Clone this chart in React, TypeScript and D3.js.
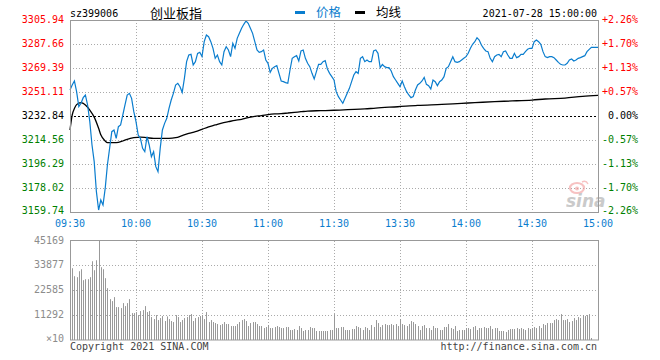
import React from "react";
import * as d3 from "d3";

// ---------- data ----------
const prevClose = 3232.84;
const priceTicks = [3305.94, 3287.66, 3269.39, 3251.11, 3232.84, 3214.56, 3196.29, 3178.02, 3159.74];
const pctTicks = ["+2.26%", "+1.70%", "+1.13%", "+0.57%", "0.00%", "-0.57%", "-1.13%", "-1.70%", "-2.26%"];
const volTicks = [45169, 33877, 22585, 11292];
const timeIdx = [0, 30, 60, 90, 120, 150, 180, 210, 240];
const timeLabels = ["09:30", "10:00", "10:30", "11:00", "11:30", "13:30", "14:00", "14:30", "15:00"];

const prices = [
  3252.64, 3256.45, 3259.49, 3251.37, 3239.95, 3242.48, 3246.8, 3248.83, 3241.22, 3228.52,
  3210.76, 3198.06, 3175.22, 3161.26, 3168.88, 3165.07, 3177.76, 3195.53, 3208.22, 3220.91,
  3222.18, 3215.83, 3224.72, 3225.99, 3233.6, 3241.22, 3248.83, 3250.1, 3246.29, 3236.14,
  3228.52, 3218.37, 3215.83, 3208.22, 3205.68, 3217.1, 3210.76, 3201.87, 3205.68, 3194.26,
  3190.45, 3208.22, 3222.18, 3227.25, 3231.06, 3238.68, 3245.02, 3250.1, 3256.45, 3257.71,
  3255.17, 3250.86, 3261.52, 3274.21, 3279.29, 3279.8, 3271.68, 3274.21, 3280.56, 3281.32,
  3278.02, 3289.44, 3294.52, 3293.25, 3289.44, 3284.37, 3276.75, 3279.29, 3274.21, 3271.68,
  3281.83, 3285.64, 3283.1, 3278.02, 3288.17, 3284.37, 3291.98, 3295.79, 3299.6, 3302.64,
  3305.18, 3303.4, 3299.6, 3295.79, 3289.44, 3283.1, 3281.32, 3281.83, 3283.1, 3275.48,
  3272.95, 3266.09, 3269.14, 3270.41, 3271.17, 3265.33, 3259.49, 3258.98, 3258.22, 3257.71,
  3267.87, 3276.75, 3278.02, 3278.78, 3274.72, 3282.34, 3283.1, 3276.75, 3272.95, 3270.41,
  3265.33, 3261.01, 3266.6, 3272.18, 3272.18, 3274.21, 3274.97, 3268.63, 3265.33, 3262.79,
  3260.26,
  3251.37, 3247.56, 3245.02, 3242.48, 3246.29, 3250.1, 3253.91, 3258.98, 3264.06, 3266.6,
  3265.33, 3276.75, 3278.02, 3274.21, 3275.48, 3274.21, 3274.21, 3282.34, 3283.1, 3280.56,
  3269.65, 3272.18, 3270.41, 3269.65, 3269.65, 3267.11, 3262.79, 3260.26, 3257.71, 3255.17,
  3259.49, 3255.17, 3251.37, 3248.83, 3246.8, 3247.56, 3252.64, 3256.45, 3257.71, 3259.49,
  3262.28, 3256.95, 3255.94, 3253.4, 3260.26, 3258.98, 3255.94, 3258.98, 3260.26, 3262.79,
  3269.14, 3270.41, 3274.21, 3278.02, 3274.21, 3273.71, 3274.21, 3275.48, 3276.75, 3278.02,
  3280.56, 3284.37, 3287.41, 3289.44, 3292.49, 3290.71, 3286.91, 3284.37, 3282.34, 3281.83,
  3276.75, 3274.21, 3278.02, 3279.29, 3279.8, 3278.02, 3281.83, 3282.34, 3279.29, 3276.75,
  3276.75, 3280.56, 3277.26, 3278.02, 3279.8, 3279.8, 3281.83, 3283.61, 3284.37, 3284.37,
  3289.44, 3290.71, 3289.44, 3287.41, 3281.83, 3278.02, 3277.26, 3278.02, 3278.02, 3277.26,
  3275.48, 3273.71, 3272.18, 3271.68, 3271.68, 3272.95, 3275.48, 3276.24, 3274.72, 3275.48,
  3276.75, 3277.26, 3278.02, 3278.78, 3281.83, 3283.61, 3285.13, 3285.13, 3285.13, 3285.13,
];

const avgIdx = [0, 1, 2, 3, 5, 6, 7, 9, 11, 13, 14, 16, 17, 20, 22, 24, 26, 29, 32, 35, 38, 45, 48, 51, 54, 57, 60, 63, 66, 69, 72, 75, 78, 81, 84, 87, 90, 93, 96, 99, 102, 105, 108, 114, 120, 134, 139, 149, 158, 169, 178, 184, 193, 201, 210, 216, 225, 233, 240];
const avgVal = [3222.2, 3233.6, 3238.5, 3241.5, 3243.0, 3242.5, 3241.2, 3237.4, 3232.0, 3223.5, 3218.5, 3213.8, 3212.5, 3212.5, 3212.8, 3213.8, 3215.1, 3216.3, 3216.8, 3216.3, 3215.8, 3215.8, 3216.3, 3217.9, 3219.6, 3220.9, 3222.7, 3224.5, 3226.0, 3227.5, 3228.5, 3229.5, 3230.3, 3231.6, 3232.6, 3233.1, 3233.9, 3234.4, 3234.6, 3235.1, 3235.6, 3236.1, 3236.6, 3236.9, 3237.2, 3238.2, 3238.9, 3239.9, 3240.9, 3241.7, 3242.5, 3243.0, 3243.8, 3244.3, 3245.0, 3245.8, 3246.5, 3247.8, 3248.5];

const volumes = [
  45169, 32746, 29107, 28652, 31381, 32291, 27288, 27743, 27743, 28652,
  35929, 31836, 36384, 45169, 33200, 32291, 28198, 23650, 18647, 17737,
  19556, 15008, 15008, 14554, 16828, 15463, 16828, 18647, 12280, 12280,
  12734, 11370, 13189, 13644, 15463, 12734, 13189, 10460, 9551, 11370,
  9096, 10006, 10915, 8641, 10764, 9551, 8641, 8186, 11370, 10460,
  8186, 9096, 10006, 10460, 11370, 11825, 8641, 10006, 10460, 10915,
  11370, 9551, 12734, 8186, 9096, 8186, 7732, 7277, 6822, 7277,
  8186, 7277, 7277, 6367, 6367, 6367, 7277, 8186, 9096, 9551,
  8641, 6367, 7732, 8186, 8186, 7277, 6367, 6367, 5458, 5912,
  6822, 5458, 5458, 5912, 6367, 5912, 5458, 5458, 5912, 5912,
  4548, 4548, 5003, 4548, 6367, 5458, 4093, 4548, 4548, 5912,
  5458, 5458, 4093, 4093, 4093, 4093, 4093, 4093, 4548, 4548,
  11825,
  5458, 5458, 5912, 5912, 4548, 4548, 4548, 5003, 5003, 6367,
  5912, 5458, 4548, 5912, 5458, 4548, 6822, 5912, 9096, 7732,
  5912, 6822, 7277, 6822, 6822, 7277, 6822, 7277, 6367, 9551,
  7277, 6822, 6367, 7277, 8641, 8186, 7277, 6367, 4548, 6367,
  6822, 5458, 5458, 4548, 6367, 5458, 5458, 4548, 4548, 5912,
  5912, 7277, 5458, 5003, 6367, 4093, 4548, 4548, 4548, 5458,
  5458, 5003, 5912, 6367, 4548, 5458, 5458, 5912, 5458, 5458,
  6367, 5003, 5458, 5458, 4093, 4093, 4093, 3638, 4548, 5003,
  5003, 5003, 5458, 5003, 5458, 5003, 4548, 5458, 5003, 5458,
  5912, 5458, 6367, 5458, 7277, 6822, 7732, 7732, 7732, 9096,
  9551, 9096, 11825, 9096, 9096, 9551, 8186, 8641, 10006, 9096,
  10460, 10006, 11370, 10915, 11370, 11825, 910, 0, 0, 0,
];

// ---------- layout ----------
const W = 660;
const H = 360;
const L = 70;
const R = 598;
const PT = 20;
const PB = 212;
const VT = 241;
const VB = 340;

const MONO = "'DejaVu Sans Mono', monospace";
const CJK = "'Noto Sans CJK SC', sans-serif";
const BLUE = "#0a7dce";
const RED = "#ff0000";
const GREEN = "#008000";
const GRID = "#aaaaaa";
const BORDER = "#999999";

export default function App() {
  const x = d3.scaleLinear().domain([0, 240]).range([L, R]);
  const yP = d3.scaleLinear().domain([priceTicks[8], priceTicks[0]]).range([PB, PT]);
  const yV = d3.scaleLinear().domain([0, volTicks[0]]).range([VB, VT]);

  const priceLine = d3
    .line<number>()
    .x((_, i) => x(i))
    .y((d) => yP(d))(prices) as string;

  const avgLine = d3
    .line<number>()
    .x((_, i) => x(avgIdx[i]))
    .y((d) => yP(d))
    .curve(d3.curveMonotoneX)(avgVal) as string;

  const px = (v: number) => Math.round(v) + 0.5;

  return (
    <svg
      width={W}
      height={H}
      style={{ position: "absolute", left: 0, top: 0, background: "#fff" }}
    >
      <rect x={0} y={0} width={W} height={H} fill="#fff" />

      {/* header */}
      <text x={70} y={16.5} fontFamily={MONO} fontSize={10} fill="#000">sz399006</text>
      <text x={150} y={18} fontFamily={CJK} fontSize={13} fill="#000">创业板指</text>
      <rect x={295} y={11} width={10} height={3} fill={BLUE} />
      <text x={316} y={17} fontFamily={CJK} fontSize={12.5} fill={BLUE}>价格</text>
      <rect x={355} y={11} width={10} height={3} fill="#000" />
      <text x={376} y={17} fontFamily={CJK} fontSize={12.5} fill="#000">均线</text>
      <text x={597} y={16.5} textAnchor="end" fontFamily={MONO} fontSize={10} fill="#000">2021-07-28 15:00:00</text>

      {/* price grid */}
      {priceTicks.map((t, i) =>
        i === 0 || i === 8 || t === prevClose ? null : (
          <line key={"pg" + i} x1={L} x2={R} y1={px(yP(t))} y2={px(yP(t))} stroke={GRID} strokeDasharray="1,2" />
        )
      )}
      {timeIdx.map((t, i) =>
        i === 0 || i === 8 ? null : (
          <line key={"tg" + i} x1={px(x(t))} x2={px(x(t))} y1={PT} y2={PB} stroke={GRID} strokeDasharray="1,2" />
        )
      )}
      <line x1={L} x2={R} y1={px(yP(prevClose))} y2={px(yP(prevClose))} stroke="#000" strokeDasharray="2,2" />

      {/* watermark */}
      <g opacity={0.6}>
        <ellipse cx={577} cy={188} rx={7} ry={5} fill="none" stroke="#f29a9a" strokeWidth={2.2} />
        <circle cx={577} cy={188.5} r={2} fill="#f29a9a" />
        <path d="M582,182 q4,-2 6,2" fill="none" stroke="#f29a9a" strokeWidth={1.4} />
        <text x={566} y={207} fontFamily="'DejaVu Sans', sans-serif" fontStyle="italic" fontWeight="bold" fontSize={17} fill="#a8a8a8">sina</text>
      </g>

      {/* lines */}
      <path d={avgLine} fill="none" stroke="#000" strokeWidth={1.3} />
      <path d={priceLine} fill="none" stroke={BLUE} strokeWidth={1.2} />

      <rect x={L + 0.5} y={PT + 0.5} width={R - L} height={PB - PT} fill="none" stroke={BORDER} />

      {/* price axis labels */}
      {priceTicks.map((t, i) => (
        <text
          key={"pl" + i}
          x={64}
          y={yP(t) + (i === 8 ? 1.5 : 3)}
          textAnchor="end"
          fontFamily={MONO}
          fontSize={10}
          fill={t > prevClose ? RED : t < prevClose ? GREEN : "#000"}
        >
          {t.toFixed(2)}
        </text>
      ))}
      {pctTicks.map((t, i) => (
        <text
          key={"pr" + i}
          x={638}
          y={yP(priceTicks[i]) + (i === 8 ? 2 : 3)}
          textAnchor="end"
          fontFamily={MONO}
          fontSize={10}
          fill={i < 4 ? RED : i > 4 ? GREEN : "#000"}
        >
          {t}
        </text>
      ))}
      {timeIdx.map((t, i) => (
        <text key={"tl" + i} x={x(t)} y={227} textAnchor="middle" fontFamily={MONO} fontSize={10} fill={BLUE}>
          {timeLabels[i]}
        </text>
      ))}

      {/* volume grid */}
      {volTicks.slice(1).map((t, i) => (
        <line key={"vg" + i} x1={L} x2={R} y1={Math.floor(yV(t)) + 0.5} y2={Math.floor(yV(t)) + 0.5} stroke={GRID} strokeDasharray="1,2" />
      ))}
      {timeIdx.map((t, i) =>
        i === 0 || i === 8 ? null : (
          <line key={"vtg" + i} x1={px(x(t))} x2={px(x(t))} y1={VT} y2={VB} stroke={GRID} strokeDasharray="1,2" />
        )
      )}

      {/* volume bars */}
      {volumes.map((v, i) =>
        v > 0 ? (
          <line key={"vb" + i} x1={px(x(i))} x2={px(x(i))} y1={VB} y2={yV(v)} stroke="#999" strokeWidth={1} />
        ) : null
      )}
      <rect x={L + 0.5} y={VT - 0.5} width={R - L} height={VB - VT + 0.5} fill="none" stroke={BORDER} />

      {volTicks.map((t, i) => (
        <text key={"vl" + i} x={64} y={yV(t) + 2.5} textAnchor="end" fontFamily={MONO} fontSize={10} fill="#8c8c8c">
          {t}
        </text>
      ))}
      <text x={64} y={VB + 2} textAnchor="end" fontFamily={MONO} fontSize={10} fill="#8c8c8c">×10</text>

      <text x={70} y={350} fontFamily={MONO} fontSize={10} fill="#444">Copyright 2021 SINA.COM</text>
      <text x={597} y={350} textAnchor="end" fontFamily={MONO} fontSize={10} fill="#444">http://finance.sina.com.cn</text>
    </svg>
  );
}
